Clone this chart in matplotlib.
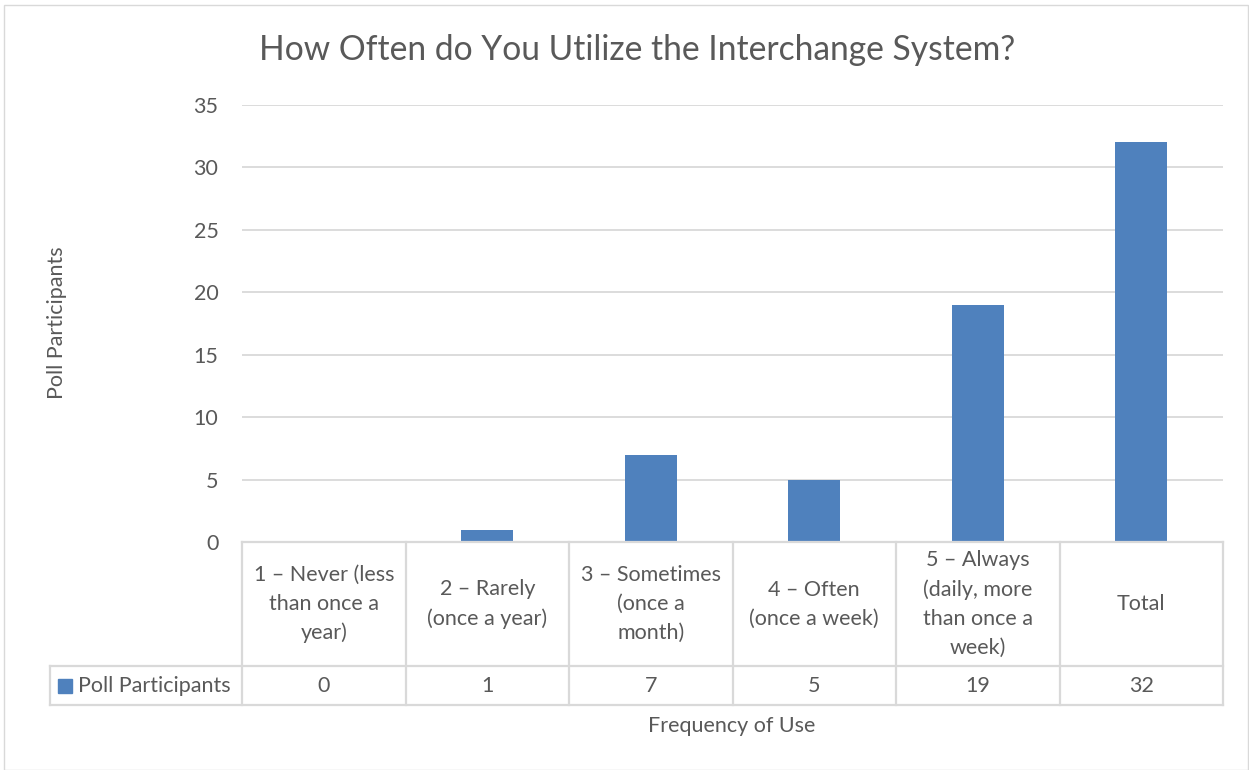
import numpy as np
import matplotlib.pyplot as plt
from matplotlib.patches import Rectangle

# Data
categories = ["1 – Never (less\nthan once a\nyear)",
              "2 – Rarely\n(once a year)",
              "3 – Sometimes\n(once a\nmonth)",
              "4 – Often\n(once a week)",
              "5 – Always\n(daily, more\nthan once a\nweek)",
              "Total"]
participants = [0, 1, 7, 5, 19, 32]
yticks = [0, 5, 10, 15, 20, 25, 30, 35]

bar_color = "#4F81BD"
text_color = "#595959"
line_color = "#D9D9D9"
fs = 15.5

plt.rcParams['font.family'] = ['Lato', 'DejaVu Sans']

W, H = 1249, 770
fig = plt.figure(figsize=(W/100, H/100), dpi=100)
fig.patches.append(Rectangle((4/W, 0), 1 - 5/W, 1 - 5/H, transform=fig.transFigure,
                             fill=False, edgecolor=line_color, linewidth=1))

def px_axes(x0, y0, x1, y1):
    return fig.add_axes([x0/W, 1 - y1/H, (x1 - x0)/W, (y1 - y0)/H])

# Plot area
ax = px_axes(242, 105, 1223, 542)
x = np.arange(len(categories))
ax.bar(x, participants, width=0.32, color=bar_color, zorder=3)
ax.set_xlim(-0.5, len(categories) - 0.5)
ax.set_ylim(0, 35)
ax.set_yticks(yticks)
ax.set_xticks([])
ax.grid(axis='y', color=line_color, linewidth=1.3, zorder=0)
for s in ax.spines.values():
    s.set_visible(False)
ax.tick_params(axis='y', length=0, pad=17, labelsize=fs, labelcolor=text_color)

# Data table below
tab = px_axes(242, 542, 1223, 705)
tab.set_xlim(-0.5, len(categories) - 0.5)
tab.set_ylim(163, 0)
tab.axis('off')
left = -0.5 - 192/163.5
kw = dict(color=line_color, linewidth=1.6, clip_on=False)
tab.plot([-0.5, len(categories) - 0.5], [0, 0], **kw)
tab.plot([left, len(categories) - 0.5], [124, 124], **kw)
tab.plot([left, len(categories) - 0.5], [163, 163], **kw)
for k in range(len(categories) + 1):
    tab.plot([k - 0.5, k - 0.5], [0, 163], **kw)
tab.plot([left, left], [124, 163], **kw)

for i, (c, v) in enumerate(zip(categories, participants)):
    tab.text(i, 62, c, ha='center', va='center', fontsize=fs, color=text_color,
             linespacing=1.56)
    tab.text(i, 144, str(v), ha='center', va='center', fontsize=fs, color=text_color)

tab.add_patch(Rectangle((left + 0.05, 137), 0.085, 14, color=bar_color, clip_on=False))
tab.text(left + 0.17, 144, "Poll Participants", ha='left', va='center', fontsize=fs,
         color=text_color)

fig.text(57/W, 1 - 323/H, "Poll Participants", ha='center', va='center',
         rotation=90, fontsize=fs, color=text_color)
fig.text(732/W, 1 - 726/H, "Frequency of Use", ha='center', va='center',
         fontsize=fs, color=text_color)
fig.text(637/W, 1 - 50/H, "How Often do You Utilize the Interchange System?",
         ha='center', va='center', fontsize=24.2, color=text_color)

fig.savefig("out.png", dpi=100)
